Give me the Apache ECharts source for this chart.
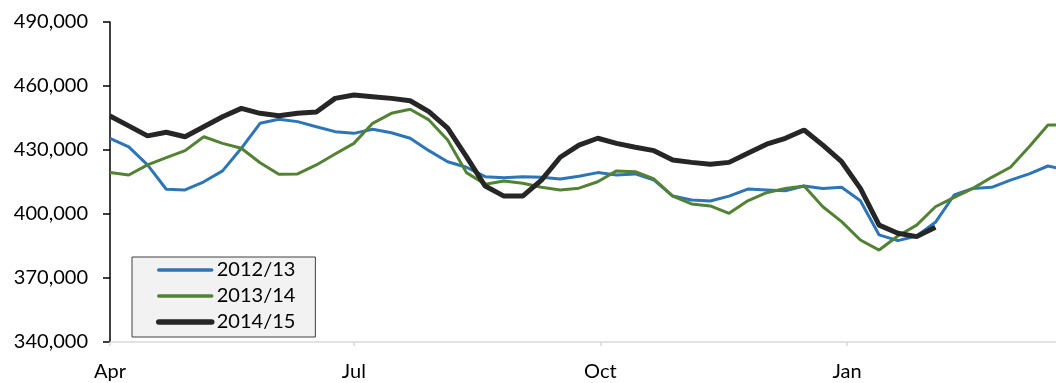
<!DOCTYPE html>
<html>
<head>
<meta charset="utf-8">
<script src="https://cdn.jsdelivr.net/npm/echarts@6/dist/echarts.min.js"></script>
<style>
  html, body { margin: 0; padding: 0; background: #fff; }
  #chart { width: 1056px; height: 383px; }
</style>
</head>
<body>
<div id="chart"></div>
<script>
// weekly points starting 1 Apr; x is days since 1 Apr
const weekDays = Array.from({ length: 52 }, (_, i) => i * 7)
const monthStarts = [0, 91, 183, 275]
const monthLabels = ['Apr', 'Jul', 'Oct', 'Jan']
const yTicks = [340000, 370000, 400000, 430000, 460000, 490000]

const s2012 = [
  435500, 431500, 423000, 411600, 411300, 415100, 420200, 430800, 442500, 444400, 443300, 440900, 438600,
  437800, 439700, 438100, 435500, 429700, 424500, 421900, 417500, 417000, 417500, 417200, 416400, 417700,
  419400, 418300, 418800, 415900, 408400, 406600, 406100, 408400, 411700, 411300, 410900, 413100, 412000,
  412500, 406200, 390200, 387500, 389700, 396100, 408900, 412000, 412500, 415900, 418800, 422500, 420600
]
const s2013 = [
  419400, 418300, 423000, 426400, 429700, 436200, 433100, 430800, 424000, 418600, 418800, 423000, 428100,
  433100, 442500, 447200, 449100, 444100, 434700, 419400, 413900, 415500, 414400, 412500, 411300, 412100,
  415100, 420200, 419800, 416400, 408400, 404700, 403800, 400300, 406200, 410000, 412000, 413100, 403400,
  396400, 387800, 383100, 389700, 394800, 403400, 407800, 412000, 417200, 421900, 431500, 441700, 441700
]
const s2014 = [
  445900, 441300, 436600, 438300, 436200, 440900, 445600, 449500, 447200, 446100, 447200, 447800, 454200,
  455800, 455000, 454200, 453100, 448000, 440200, 426900, 413100, 408400, 408400, 415900, 426600, 432300,
  435500, 433100, 431300, 429700, 425300, 424200, 423300, 424200, 428500, 432700, 435500, 439400, 432300,
  424500, 412000, 394800, 391000, 389400, 393800
]

const pairs = (vals) => vals.map((v, i) => [weekDays[i], v])

const font = 'Lato, "Open Sans", sans-serif'
const chart = echarts.init(document.getElementById('chart'))

chart.setOption({
  animation: false,
  grid: { left: 110, top: 22, bottom: 41, right: 0, outerBoundsMode: 'none' },
  legend: {
    orient: 'vertical',
    left: 132,
    top: 257,
    backgroundColor: '#f2f2f2',
    borderColor: '#404040',
    borderWidth: 1,
    borderRadius: 0,
    padding: [3, 20, 5, 24],
    itemWidth: 53,
    itemHeight: 14,
    itemGap: 6,
    itemStyle: { opacity: 0 },
    textStyle: { fontFamily: font, fontSize: 20, color: '#000', lineHeight: 20 },
    data: [
      { name: '2012/13', lineStyle: { width: 3.5, cap: 'round' } },
      { name: '2013/14', lineStyle: { width: 3.5, cap: 'round' } },
      { name: '2014/15', lineStyle: { width: 5.5, cap: 'round' } }
    ]
  },
  xAxis: {
    type: 'value',
    min: 0,
    max: 353,
    axisLine: { lineStyle: { color: '#d9d9d9', width: 1.5 } },
    axisTick: {
      length: 4,
      customValues: monthStarts,
      lineStyle: { color: '#d9d9d9', width: 1.5 }
    },
    axisLabel: {
      customValues: monthStarts,
      formatter: (v) => monthLabels[monthStarts.indexOf(v)] || '',
      fontFamily: font,
      fontSize: 20,
      color: '#000',
      margin: 20
    },
    splitLine: { show: false }
  },
  yAxis: {
    type: 'value',
    min: yTicks[0],
    max: yTicks[yTicks.length - 1],
    interval: 30000,
    axisLine: { show: true, lineStyle: { color: '#000', width: 1.5 } },
    axisTick: { show: true, length: 7, lineStyle: { color: '#000', width: 1.5 } },
    axisLabel: {
      formatter: (v) => v.toLocaleString('en-US'),
      fontFamily: font,
      fontSize: 20,
      color: '#000',
      margin: 22
    },
    splitLine: { show: false }
  },
  series: [
    {
      name: '2012/13', type: 'line', data: pairs(s2012),
      symbol: 'none', color: '#2e75b6',
      lineStyle: { color: '#2e75b6', width: 3 }
    },
    {
      name: '2013/14', type: 'line', data: pairs(s2013),
      symbol: 'none', color: '#548235',
      lineStyle: { color: '#548235', width: 3 }
    },
    {
      name: '2014/15', type: 'line', data: pairs(s2014),
      symbol: 'none', color: '#262626',
      lineStyle: { color: '#262626', width: 5 }
    }
  ]
})
</script>
</body>
</html>
